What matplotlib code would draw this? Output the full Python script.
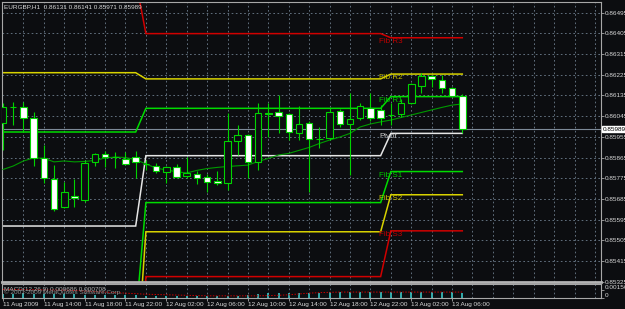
import matplotlib
matplotlib.use('Agg')
import matplotlib.pyplot as plt
from matplotlib.patches import Rectangle
import numpy as np

plt.rcParams['font.family'] = ['Liberation Sans', 'DejaVu Sans']

# ---------------- data ----------------
symbol_info = "EURGBP,H1  0.86131 0.86141 0.85971 0.85989"
last_price = 0.85989

time_labels = ["11 Aug 2009", "11 Aug 14:00", "11 Aug 18:00", "11 Aug 22:00",
               "12 Aug 02:00", "12 Aug 06:00", "12 Aug 10:00", "12 Aug 14:00",
               "12 Aug 18:00", "12 Aug 22:00", "13 Aug 02:00", "13 Aug 06:00"]
time_label_bars = [0, 4, 8, 12, 16, 20, 24, 28, 32, 36, 40, 44]

price_ticks = [0.85325, 0.85415, 0.85505, 0.85595, 0.85685, 0.85775, 0.85865,
               0.85955, 0.86045, 0.86135, 0.86225, 0.86315, 0.86405, 0.86495]

opens = [0.86017, 0.86083, 0.86086, 0.86038, 0.85864, 0.85772, 0.85648, 0.85699,
         0.85680, 0.85847, 0.85879, 0.85869, 0.85860, 0.85869, 0.85838, 0.85828,
         0.85803, 0.85825, 0.85786, 0.85793, 0.85779, 0.85762, 0.85756, 0.85936,
         0.85963, 0.85847, 0.86060, 0.86064, 0.86053, 0.85973, 0.86014, 0.85947,
         0.85949, 0.86067, 0.86010, 0.86036, 0.86079, 0.86072, 0.86050, 0.86054,
         0.86101, 0.86176, 0.86220, 0.86202, 0.86166, 0.86131]
highs = [0.86102, 0.86108, 0.86108, 0.86062, 0.85919, 0.85832, 0.85760, 0.85770,
         0.85854, 0.85883, 0.85895, 0.85890, 0.85890, 0.85895, 0.85854, 0.85840,
         0.85828, 0.85837, 0.85866, 0.85806, 0.85792, 0.85806, 0.86057, 0.86006,
         0.85967, 0.86101, 0.86101, 0.86137, 0.86059, 0.86090, 0.86024, 0.85999,
         0.86079, 0.86074, 0.86144, 0.86101, 0.86144, 0.86093, 0.86101, 0.86118,
         0.86189, 0.86231, 0.86224, 0.86224, 0.86173, 0.86141]
lows = [0.85898, 0.86006, 0.85977, 0.85828, 0.85756, 0.85632, 0.85644, 0.85651,
        0.85673, 0.85828, 0.85825, 0.85818, 0.85832, 0.85775, 0.85811, 0.85796,
        0.85756, 0.85775, 0.85775, 0.85750, 0.85715, 0.85744, 0.85724, 0.85876,
        0.85775, 0.85811, 0.85956, 0.85970, 0.85941, 0.85941, 0.85716, 0.85905,
        0.85941, 0.85999, 0.85789, 0.86028, 0.86025, 0.86006, 0.86006, 0.86043,
        0.86097, 0.86147, 0.86172, 0.86144, 0.86129, 0.85971]
closes = [0.86086, 0.86084, 0.86036, 0.85864, 0.85775, 0.85641, 0.85714, 0.85688,
          0.85840, 0.85879, 0.85869, 0.85866, 0.85836, 0.85847, 0.85836, 0.85808,
          0.85822, 0.85782, 0.85799, 0.85775, 0.85759, 0.85756, 0.85936, 0.85964,
          0.85847, 0.86057, 0.86054, 0.86047, 0.85977, 0.86010, 0.85944, 0.85946,
          0.86062, 0.86011, 0.86031, 0.86089, 0.86036, 0.86038, 0.86049, 0.86101,
          0.86185, 0.86220, 0.86207, 0.86166, 0.86133, 0.85989]
ma_values = [0.85813, 0.85828, 0.85850, 0.85863, 0.85862, 0.85846, 0.85850, 0.85846,
             0.85848, 0.85852, 0.85863, 0.85867, 0.85865, 0.85856, 0.85837, 0.85819,
             0.85811, 0.85803, 0.85798, 0.85809, 0.85817, 0.85822, 0.85826, 0.85829,
             0.85832, 0.85848, 0.85861, 0.85876, 0.85883, 0.85896, 0.85909, 0.85926,
             0.85941, 0.85954, 0.85970, 0.85998, 0.86011, 0.86020, 0.86028, 0.86039,
             0.86050, 0.86061, 0.86072, 0.86083, 0.86093, 0.86098]

# daily Fibonacci pivot levels (11 Aug, 12 Aug, 13 Aug)
day_bar_counts = [14, 24, 8]
fib_r3 = [0.86637, 0.86404, 0.86386]
fib_r2 = [0.86234, 0.86207, 0.86228]
fib_r1 = [0.85976, 0.86079, 0.86130]
pivot = [0.85567, 0.85873, 0.85970]
fib_s1 = [0.85158, 0.85669, 0.85804]
fib_s2 = [0.84906, 0.85542, 0.85703]
fib_s3 = [0.84497, 0.85347, 0.85546]

# sub-window indicator
sub_hist = [0.00075, 0.00080, 0.00085, 0.00080, 0.00075, 0.00070, 0.00075, 0.00070,
            0.00065, 0.00060, 0.00060, 0.00055, 0.00050, 0.00050, 0.00045, 0.00045,
            0.00040, 0.00040, 0.00040, 0.00035, 0.00035, 0.00030, 0.00030, 0.00045,
            0.00060, 0.00075, 0.00085, 0.00095, 0.00100, 0.00100, 0.00100, 0.00100,
            0.00105, 0.00105, 0.00105, 0.00105, 0.00105, 0.00110, 0.00110, 0.00110,
            0.00110, 0.00110, 0.00110, 0.00110, 0.00105, 0.00100]
sub_signal = [0.00160, 0.00160, 0.00155, 0.00155, 0.00150, 0.00150, 0.00145, 0.00140,
              0.00130, 0.00120, 0.00110, 0.00100, 0.00090, 0.00080, 0.00070, 0.00065,
              0.00060, 0.00055, 0.00050, 0.00045, 0.00040, 0.00040, 0.00040, 0.00040,
              0.00040, 0.00040, 0.00045, 0.00050, 0.00060, 0.00075, 0.00090, 0.00100,
              0.00105, 0.00110, 0.00110, 0.00110, 0.00110, 0.00110, 0.00110, 0.00110,
              0.00110, 0.00110, 0.00110, 0.00110, 0.00110, 0.00110]
sub_ticks = [0, 0.00156]
sub_tick_labels = ["0", "0.00156"]
sub_title = "MACD(12,26,9) 0.000686 0.000708"
sub_copyright = "\u00a9 2001-2009 MetaQuotes Software Corp."

# ---------------- style ----------------
BG = '#0c0d10'
GRID = '#6f7f8f'
FRAME = '#a8a8a8'
TXT = '#d8d8d8'
CANDLE = '#00d400'
LIME = '#00dc00'
YELLOW = '#d8d200'
RED = '#d00000'
WHITE = '#e6e6e6'
FS = 4.6

W, H = 625, 309
fig = plt.figure(figsize=(W / 100, H / 100), dpi=100, facecolor=BG)

def fr(x0, y0, x1, y1):
    return [x0 / W, 1 - y1 / H, (x1 - x0) / W, (y1 - y0) / H]

ax = fig.add_axes(fr(2, 2, 601, 282), facecolor=BG)
sub = fig.add_axes(fr(2, 284, 601, 298), facecolor=BG, sharex=ax)

n = len(opens)
xs = np.arange(n)
xlim = (-0.098, 58.59)
ax.set_xlim(*xlim)
ax.set_ylim(0.853235, 0.865415)

# grid
for p in price_ticks:
    ax.axhline(p, color=GRID, lw=0.6, ls=(0, (2, 3)), zorder=0)
for gx in range(2, 59, 2):
    ax.axvline(gx, color=GRID, lw=0.6, ls=(0, (2, 3)), zorder=0)
    sub.axvline(gx, color=GRID, lw=0.6, ls=(0, (2, 3)), zorder=0)

# bid line
ax.axhline(last_price, color='#7d8a98', lw=0.8, zorder=1)

# pivot lines
def level_series(vals):
    return np.repeat(vals, day_bar_counts)

levels = [(fib_r3, RED, 'Fib R3', '#c00000'),
          (fib_r2, YELLOW, 'Fib R2', '#c8c000'),
          (fib_r1, LIME, 'Fib R1', '#00c800'),
          (pivot, WHITE, 'Pivot', '#c8c8c8'),
          (fib_s1, LIME, 'Fib S1', '#00c800'),
          (fib_s2, YELLOW, 'Fib S2', '#c8c000'),
          (fib_s3, RED, 'Fib S3', '#c00000')]
for vals, col, lab, tcol in levels:
    ax.plot(xs, level_series(vals), color=col, lw=1.1, zorder=2, solid_joinstyle='miter')
    ax.text(36.85, vals[-1], lab, color=tcol, fontsize=5.8, ha='left', va='top',
            zorder=5)

# moving average
ax.plot(xs, ma_values, color='#009a00', lw=0.8, zorder=3)

# candles
bw = 0.64
for i in range(n):
    o, h, l, c = opens[i], highs[i], lows[i], closes[i]
    ax.plot([i, i], [l, h], color=CANDLE, lw=0.8, zorder=4, solid_capstyle='butt')
    lo, hi = min(o, c), max(o, c)
    fc = 'white' if c < o else BG
    ax.add_patch(Rectangle((i - bw / 2, lo), bw, hi - lo, facecolor=fc,
                           edgecolor=CANDLE, lw=0.8, zorder=4.5))

# axes styling
for a in (ax, sub):
    for s in a.spines.values():
        s.set_color(FRAME)
        s.set_linewidth(0.8)
ax.spines['bottom'].set_linewidth(2.0)
ax.spines['bottom'].set_color('#b4b4b4')

ax.yaxis.tick_right()
ax.set_yticks(price_ticks)
ax.set_yticklabels([f"{p:.5f}" for p in price_ticks])
ax.tick_params(axis='y', colors=FRAME, labelcolor=TXT, labelsize=FS, length=2,
               width=0.6, pad=1, direction='out')
ax.tick_params(axis='x', bottom=False, labelbottom=False)

# current price box
ax.annotate(f"{last_price:.5f}", xy=(1.0, last_price), xycoords=('axes fraction', 'data'),
            xytext=(1.4, 0), textcoords='offset points', fontsize=FS, color='black',
            ha='left', va='center', annotation_clip=False,
            bbox=dict(boxstyle='square,pad=0.15', fc='white', ec='white'))

# sub window
sub.set_ylim(0, 0.0026)
sub.vlines(xs, 0, sub_hist, color='#3ac6c6', lw=1.2, zorder=2)
sub.plot(xs, sub_signal, color='#c80000', lw=0.7, ls=(0, (1.5, 1.5)), zorder=3)
sub.yaxis.tick_right()
sub.set_yticks(sub_ticks)
sub.set_yticklabels(sub_tick_labels)
for t in sub.get_yticklabels():
    t.set_va('bottom')
sub.tick_params(axis='y', colors=FRAME, labelcolor=TXT, labelsize=FS, length=2,
                width=0.6, pad=1)
sub.set_xticks(time_label_bars)
sub.set_xticklabels(time_labels)
for t in sub.get_xticklabels():
    t.set_ha('left')
sub.tick_params(axis='x', colors=FRAME, labelcolor=TXT, labelsize=FS, length=2,
                width=0.6, pad=1)
sub.text(0.004, 0.62, sub_title, transform=sub.transAxes, fontsize=FS,
         color='#b0b0b0', ha='left', va='center', zorder=5)
sub.text(0.004, 0.45, sub_copyright, transform=sub.transAxes, fontsize=FS,
         color='#909090', ha='left', va='center', zorder=5)

fig.text(4 / W, 1 - 6.5 / H, symbol_info, fontsize=FS, color=TXT, ha='left', va='center')

fig.savefig('out.png', dpi=100, facecolor=BG)
